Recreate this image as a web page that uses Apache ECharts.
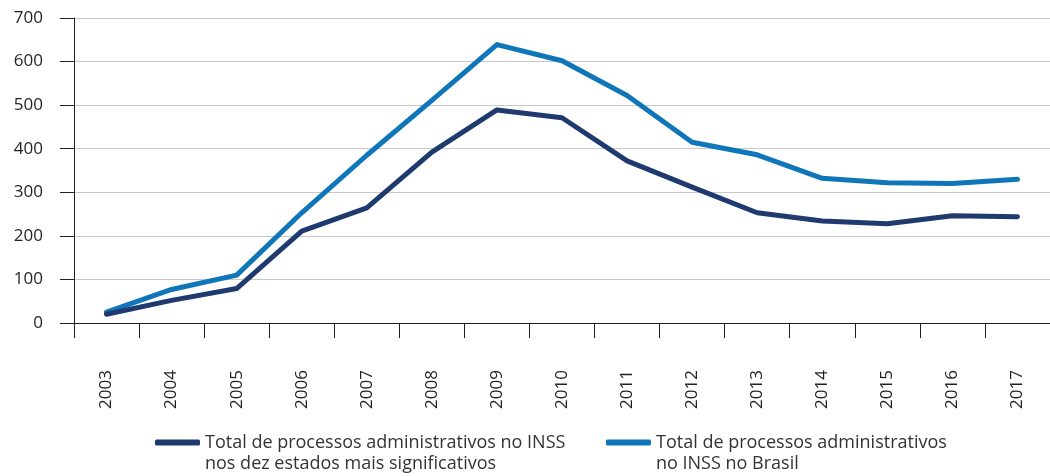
<!DOCTYPE html>
<html>
<head>
<meta charset="utf-8">
<script src="https://cdn.jsdelivr.net/npm/echarts@6/dist/echarts.min.js"></script>
<style>
html,body{margin:0;padding:0;background:#fff;}
#chart{width:1050px;height:476px;}
</style>
</head>
<body>
<div id="chart"></div>
<script>
const categories = ['2003','2004','2005','2006','2007','2008','2009','2010','2011','2012','2013','2014','2015','2016','2017'];
const estadosValues = [20, 52, 79, 211, 264, 392, 489, 471, 372, 312, 253, 234, 228, 246, 244];
const brasilValues = [25, 77, 110, 253, 385, 511, 639, 602, 522, 415, 386, 332, 322, 320, 330];
const yTicks = [0, 100, 200, 300, 400, 500, 600, 700];
const seriesNames = [
  'Total de processos administrativos no INSS\nnos dez estados mais significativos',
  'Total de processos administrativos\nno INSS no Brasil'
];

const FONT = '"Open Sans", "Noto Sans", sans-serif';
const TXT = '#231f20';
const chart = echarts.init(document.getElementById('chart'));
const legendText = { fontFamily: FONT, fontSize: 18, color: '#333', lineHeight: 21 };
const legendBase = {
  top: 406, icon: 'roundRect', itemWidth: 45, itemHeight: 6, itemGap: 6,
  textStyle: legendText,
  formatter: function (name) { return '\n' + name; }
};
chart.setOption({
  animation: false,
  backgroundColor: '#fff',
  grid: { left: 74, right: -7, top: 18, bottom: 153, containLabel: false },
  legend: [
    Object.assign({}, legendBase, { data: [seriesNames[0]], left: 150 }),
    Object.assign({}, legendBase, { data: [seriesNames[1]], left: 601 })
  ],
  xAxis: {
    type: 'category',
    data: categories,
    boundaryGap: true,
    axisLine: { show: true, lineStyle: { color: TXT, width: 1 } },
    axisTick: { show: true, alignWithLabel: false, length: 15, inside: false, lineStyle: { color: TXT } },
    axisLabel: { rotate: 90, margin: 47, fontFamily: FONT, fontSize: 17, color: TXT, interval: 0 },
    splitLine: { show: false }
  },
  yAxis: {
    type: 'value',
    min: yTicks[0],
    max: yTicks[yTicks.length - 1],
    interval: 100,
    axisLine: { show: true, lineStyle: { color: TXT, width: 1 } },
    axisTick: { show: true, length: 14, inside: false, lineStyle: { color: TXT } },
    axisLabel: { margin: 31, fontFamily: FONT, fontSize: 17, color: TXT },
    splitLine: { show: true, lineStyle: { color: '#c8c8c8', width: 1 } }
  },
  series: [
    {
      name: seriesNames[0], type: 'line', data: estadosValues,
      showSymbol: false, symbol: 'none', smooth: false,
      lineStyle: { color: '#1f3a6e', width: 5, cap: 'round', join: 'round' },
      itemStyle: { color: '#1f3a6e' }, z: 3
    },
    {
      name: seriesNames[1], type: 'line', data: brasilValues,
      showSymbol: false, symbol: 'none', smooth: false,
      lineStyle: { color: '#0f76b9', width: 5, cap: 'round', join: 'round' },
      itemStyle: { color: '#0f76b9' }, z: 2
    }
  ]
});
</script>
</body>
</html>
